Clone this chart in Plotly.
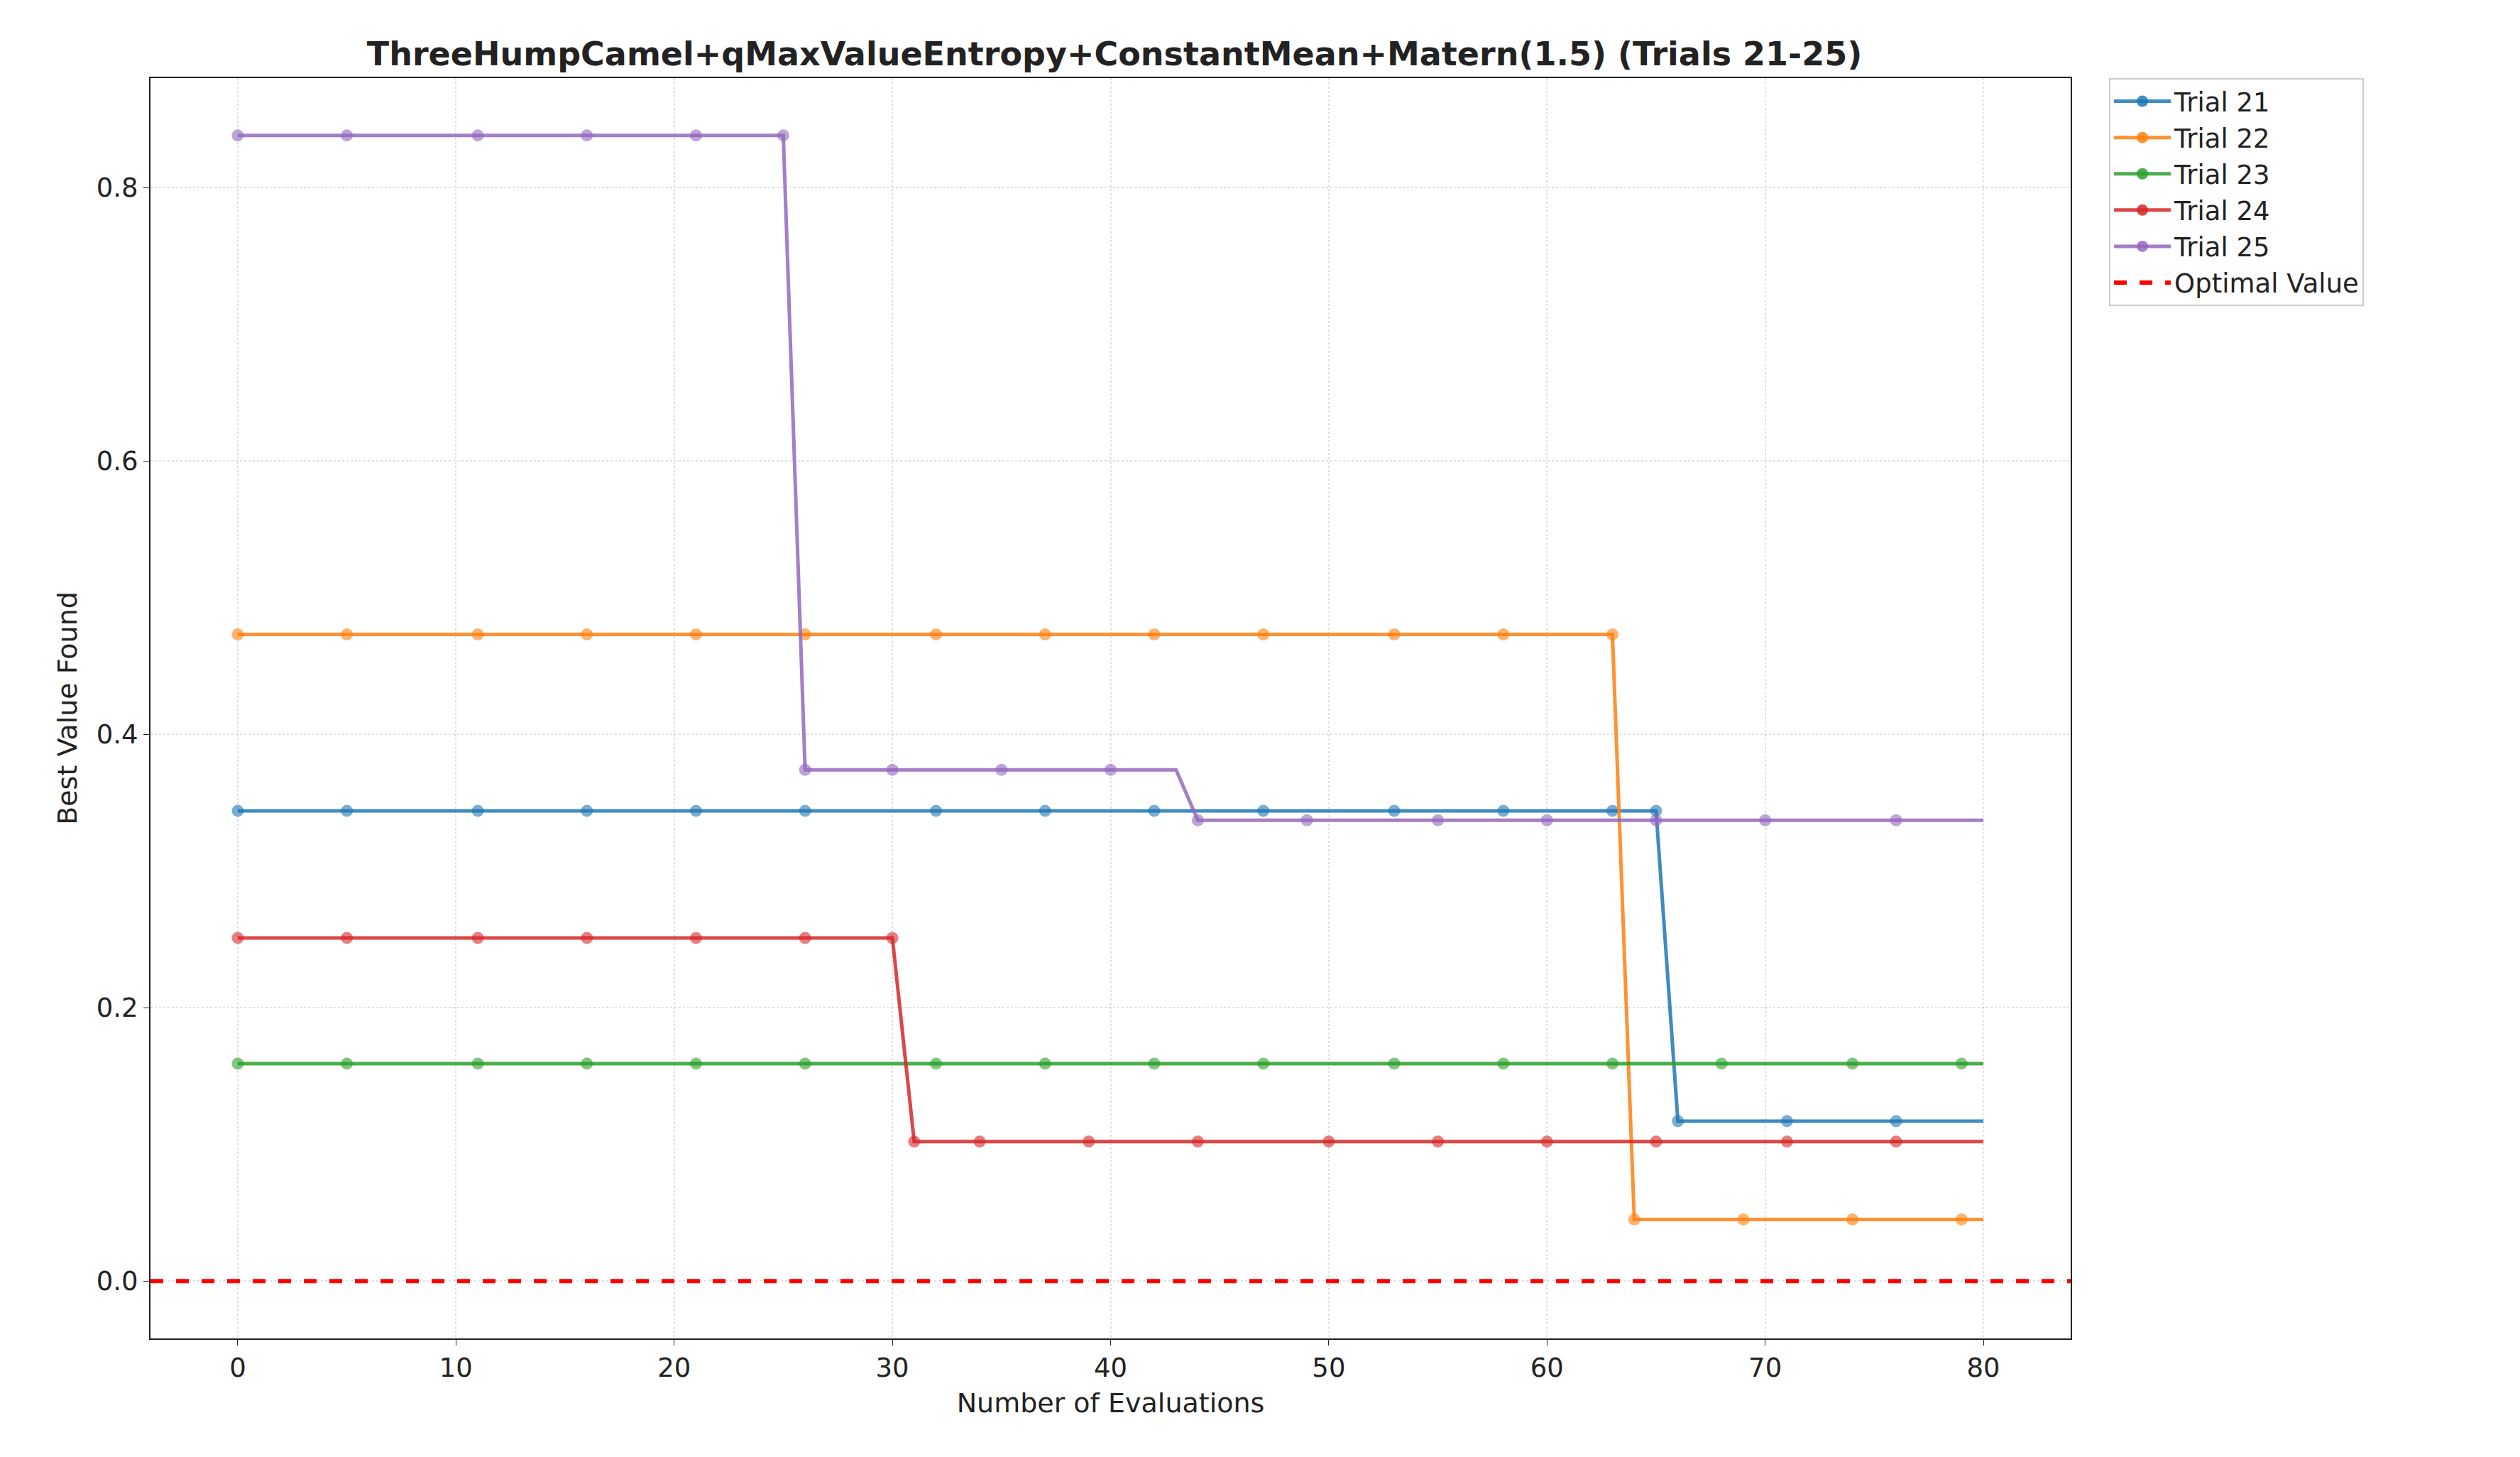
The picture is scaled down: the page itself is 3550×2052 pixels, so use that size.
import numpy as np
import plotly.graph_objects as go

evals = list(range(81))

trial_names = ["Trial 21", "Trial 22", "Trial 23", "Trial 24", "Trial 25"]
colors = ["rgba(31,119,180,0.85)", "rgba(255,127,14,0.85)", "rgba(44,160,44,0.85)",
          "rgba(214,39,40,0.85)", "rgba(148,103,189,0.85)"]

# step levels: (last evaluation index of level, value)
steps_21 = [(65, 0.344), (80, 0.117)]
steps_22 = [(63, 0.473), (80, 0.045)]
steps_23 = [(80, 0.159)]
steps_24 = [(30, 0.251), (80, 0.102)]
steps_25 = [(25, 0.838), (43, 0.374), (80, 0.337)]

markers_21 = [0, 5, 11, 16, 21, 26, 32, 37, 42, 47, 53, 58, 63, 65, 66, 71, 76]
markers_22 = [0, 5, 11, 16, 21, 26, 32, 37, 42, 47, 53, 58, 63, 64, 69, 74, 79]
markers_23 = [0, 5, 11, 16, 21, 26, 32, 37, 42, 47, 53, 58, 63, 68, 74, 79]
markers_24 = [0, 5, 11, 16, 21, 26, 30, 31, 34, 39, 44, 50, 55, 60, 65, 71, 76]
markers_25 = [0, 5, 11, 16, 21, 25, 26, 30, 35, 40, 44, 49, 55, 60, 65, 70, 76]

optimal_value = 0.0


def expand(steps):
    out = []
    for x in evals:
        for end, v in steps:
            if x <= end:
                out.append(v)
                break
    return out


fig = go.Figure()
for name, color, steps, marks in zip(
    trial_names, colors,
    [steps_21, steps_22, steps_23, steps_24, steps_25],
    [markers_21, markers_22, markers_23, markers_24, markers_25],
):
    sizes = [17 if x in marks else 0 for x in evals]
    fig.add_trace(go.Scatter(
        x=evals, y=expand(steps), name=name, mode="lines+markers", showlegend=False,
        legendgroup=name,
        line={"color": color, "width": 5},
        marker={"color": color, "size": sizes, "line": {"width": 0}},
    ))
    # legend entry with a visible marker
    fig.add_trace(go.Scatter(
        x=[None], y=[None], name=name, mode="lines+markers", legendgroup=name,
        line={"color": color, "width": 5},
        marker={"color": color, "size": 17},
    ))

fig.add_trace(go.Scatter(
    x=[-4, 84], y=[optimal_value, optimal_value], name="Optimal Value", mode="lines",
    line={"color": "red", "width": 6, "dash": "dash"},
))

axis_common = dict(
    showline=True, linecolor="#222", linewidth=2, mirror=True,
    showgrid=True, gridcolor="rgba(0,0,0,0.12)", griddash="dot", gridwidth=2,
    zeroline=False, ticks="outside", ticklen=8, tickcolor="#222",
    tickfont={"size": 37, "color": "#222"},
)

fig.update_layout(
    width=3550, height=2052,
    paper_bgcolor="white", plot_bgcolor="white",
    font={"family": "DejaVu Sans", "color": "#222"},
    title={"text": "<b>ThreeHumpCamel+qMaxValueEntropy+ConstantMean+Matern(1.5) (Trials 21-25)</b>",
           "x": 0.44, "xanchor": "center", "y": 0.975, "font": {"size": 46}},
    margin={"l": 204, "r": 641, "t": 102, "b": 175},
    xaxis=dict(axis_common, range=[-4, 84], tickvals=[0, 10, 20, 30, 40, 50, 60, 70, 80],
               title={"text": "Number of Evaluations", "font": {"size": 38}}),
    yaxis=dict(axis_common, range=[-0.042, 0.88], tickvals=[0, 0.2, 0.4, 0.6, 0.8],
               tickformat=".1f",
               title={"text": "Best Value Found", "font": {"size": 38}}),
    legend={"x": 1.02, "y": 1.0, "xanchor": "left", "yanchor": "top",
            "bordercolor": "#ccc", "borderwidth": 2, "font": {"size": 37},
            "itemwidth": 80, "tracegroupgap": 0},
)

fig.write_html("out.html")
